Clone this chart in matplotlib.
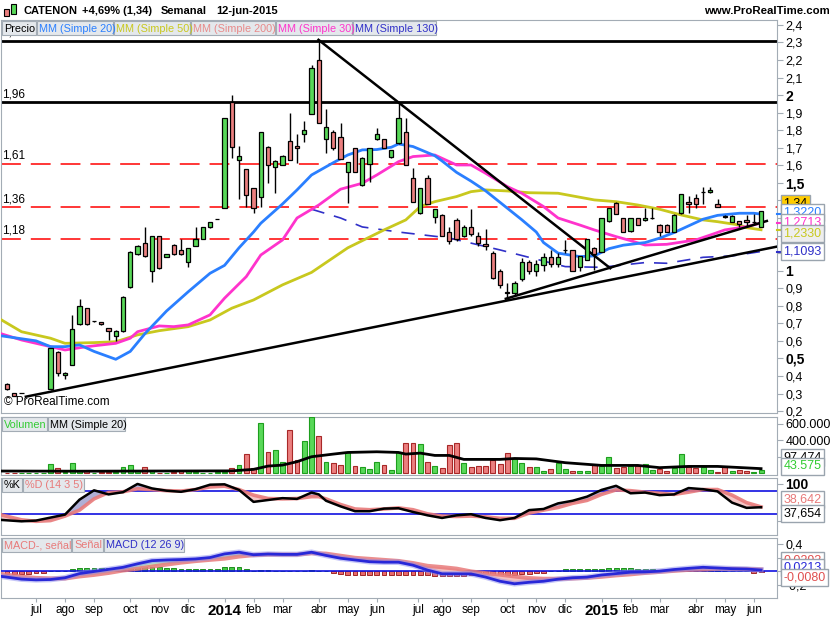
import numpy as np
import matplotlib.pyplot as plt
from matplotlib.transforms import blended_transform_factory
from matplotlib.patches import Rectangle

plt.rcParams['font.family'] = ['Liberation Sans', 'DejaVu Sans']

nan = np.nan

# weekly candles, first shown week (jun 2013) .. 12-jun-2015
opens = [0.353, 0.301, 0.305, nan, nan, nan, 0.324, 0.535, 0.404, 0.463,
         0.696, 0.786, 0.713, 0.706, 0.672, 0.628, 0.656, 0.905, 1.093, 1.16,
         0.998, 1.198, 1.078, 1.145, 1.118, 1.048, 1.142, 1.18, 1.247, 1.295,
         1.356, 1.963, 1.631, 1.578, 1.47, 1.418, 1.707, 1.589, 1.602, 1.739,
         1.71, 1.779, 1.891, 2.2, 1.749, 1.789, 1.76, 1.561, 1.697, 1.487,
         1.606, 1.749, 1.749, 1.646, 1.726, 1.789, 1.527, 1.327, 1.527, 1.304,
         1.317, 1.22, 1.29, 1.20, 1.25, 1.20, 1.15, 1.10, 1.0, 0.88,
         0.87, 0.95, 1.05, 1.0, 1.03, 1.08, 1.04, 1.12, 1.118, 1.023,
         1.061, 1.131, 1.108, 1.285, 1.384, 1.299, 1.226, 1.299, 1.289, 1.30,
         1.26, 1.26, 1.222, 1.327, 1.39, 1.416, 1.45, 1.45, 1.38, 1.313,
         1.279, 1.283, 1.29, 1.275, 1.251]
highs = [0.36, 0.305, 0.305, nan, nan, nan, 0.56, 0.54, 0.42, 0.747,
         0.839, 0.79, 0.715, 0.71, 0.675, 0.66, 0.855, 1.11, 1.145, 1.251,
         1.20, 1.20, 1.095, 1.15, 1.179, 1.13, 1.247, 1.25, 1.28, 1.297,
         1.87, 2.001, 1.71, 1.58, 1.47, 1.79, 1.71, 1.63, 1.66, 1.897,
         1.78, 1.853, 2.172, 2.315, 1.921, 1.80, 1.84, 1.62, 1.70, 1.65,
         1.70, 1.811, 1.75, 1.69, 1.963, 1.868, 1.583, 1.47, 1.545, 1.35,
         1.32, 1.25, 1.30, 1.26, 1.35, 1.22, 1.24, 1.11, 1.01, 0.93,
         0.94, 1.07, 1.06, 1.06, 1.10, 1.12, 1.10, 1.175, 1.12, 1.084,
         1.18, 1.135, 1.30, 1.356, 1.39, 1.30, 1.30, 1.30, 1.356, 1.356,
         1.265, 1.265, 1.32, 1.435, 1.427, 1.437, 1.475, 1.475, 1.41, 1.315,
         1.315, 1.285, 1.317, 1.32, 1.336]
lows = [0.32, 0.285, 0.305, nan, nan, nan, 0.32, 0.40, 0.381, 0.46,
        0.69, 0.69, 0.71, 0.69, 0.605, 0.60, 0.65, 0.90, 1.09, 1.08,
        0.934, 1.01, 1.075, 1.09, 1.09, 1.023, 1.14, 1.178, 1.245, 1.293,
        1.355, 1.64, 1.407, 1.365, 1.327, 1.365, 1.498, 1.444, 1.60, 1.63,
        1.615, 1.735, 1.89, 1.84, 1.669, 1.69, 1.635, 1.387, 1.561, 1.48,
        1.507, 1.745, 1.697, 1.64, 1.72, 1.602, 1.393, 1.32, 1.38, 1.274,
        1.20, 1.15, 1.17, 1.19, 1.20, 1.14, 1.12, 0.95, 0.90, 0.84,
        0.86, 0.94, 0.98, 0.97, 1.0, 1.02, 1.02, 1.10, 1.0, 1.0,
        1.06, 1.004, 1.105, 1.28, 1.32, 1.222, 1.222, 1.26, 1.285, 1.295,
        1.198, 1.22, 1.22, 1.325, 1.327, 1.356, 1.38, 1.44, 1.36, 1.30,
        1.275, 1.247, 1.253, 1.26, 1.251]
closes = [0.324, 0.286, 0.305, nan, nan, nan, 0.558, 0.415, 0.419, 0.666,
          0.799, 0.696, 0.713, 0.695, 0.656, 0.656, 0.852, 1.105, 1.142, 1.085,
          1.198, 1.014, 1.093, 1.093, 1.095, 1.128, 1.179, 1.247, 1.276, 1.295,
          1.868, 1.707, 1.655, 1.431, 1.356, 1.789, 1.602, 1.627, 1.655, 1.631,
          1.697, 1.80, 2.153, 1.84, 1.817, 1.697, 1.635, 1.618, 1.561, 1.644,
          1.697, 1.777, 1.697, 1.688, 1.868, 1.602, 1.393, 1.47, 1.38, 1.35,
          1.20, 1.17, 1.18, 1.25, 1.21, 1.16, 1.14, 0.96, 0.92, 0.87,
          0.93, 1.05, 1.0, 1.04, 1.08, 1.04, 1.08, 1.12, 1.0, 1.084,
          1.179, 1.095, 1.299, 1.356, 1.323, 1.222, 1.299, 1.26, 1.299, 1.30,
          1.222, 1.222, 1.317, 1.435, 1.378, 1.378, 1.45, 1.46, 1.361, 1.304,
          1.313, 1.264, 1.28, 1.28, 1.34]

# weekly volume, thousands
volume = [6, 8, 6, 4, 8, 8, 117, 60, 20, 120,
          32, 32, 5, 20, 20, 20, 72, 100, 28, 72,
          28, 8, 5, 16, 32, 28, 12, 8, 8, 12,
          20, 60, 100, 233, 60, 614, 253, 281, 133, 522,
          161, 390, 683, 450, 141, 120, 100, 253, 88, 72,
          48, 141, 100, 40, 261, 373, 373, 361, 141, 88,
          68, 349, 373, 120, 80, 92, 92, 161, 108, 241,
          169, 120, 80, 80, 28, 48, 120, 48, 28, 28,
          28, 100, 88, 201, 60, 72, 88, 88, 108, 40,
          48, 28, 60, 229, 72, 60, 72, 40, 12, 72,
          28, 40, 28, 12, 44]
# volume MM (Simple 20), thousands
vma_x = [-1, 10, 20, 31, 34, 36, 38, 40, 42, 45, 47, 51, 54, 55, 57, 59, 61, 63, 68, 70,
         73, 77, 82, 87, 90, 94, 98, 104]
vma_y = [28, 26, 28, 30, 48, 88, 100, 141, 201, 233, 253, 261, 253, 233, 245, 217, 217,
         169, 169, 180, 175, 129, 96, 96, 69, 84, 84, 57]

# moving averages (week index, value)
ma20_x = [-1, 4, 6, 8, 10, 12, 15, 17, 19, 22, 25, 28, 30, 32, 34, 35, 38, 40, 42, 45,
          47, 49, 51, 53, 54, 56, 59, 60, 62, 64, 66, 69, 71, 73, 74, 76, 79, 81, 83, 85,
          88, 90, 92, 94, 96, 98, 101, 103, 104]
ma20_y = [0.63, 0.60, 0.567, 0.567, 0.577, 0.54, 0.495, 0.54, 0.64, 0.77, 0.88, 0.985, 1.03,
          1.13, 1.22, 1.27, 1.38, 1.46, 1.545, 1.615, 1.659, 1.688, 1.69, 1.703, 1.722, 1.707,
          1.655, 1.625, 1.56, 1.51, 1.455, 1.356, 1.29, 1.22, 1.16, 1.10, 1.08, 1.084, 1.125,
          1.145, 1.16, 1.185, 1.217, 1.255, 1.293, 1.315, 1.327, 1.327, 1.322]
ma30_x = [-1, 2, 6, 8, 11, 15, 17, 18, 21, 23, 25, 28, 30, 33, 35, 38, 40, 43, 46, 49,
          51, 54, 56, 59, 60, 62, 64, 66, 69, 71, 74, 76, 79, 81, 84, 86, 88, 91, 95, 97,
          99, 102, 104]
ma30_y = [0.643, 0.605, 0.567, 0.548, 0.567, 0.586, 0.615, 0.652, 0.685, 0.681, 0.691,
          0.748, 0.843, 0.966, 1.089, 1.175, 1.30, 1.374, 1.464, 1.498, 1.545, 1.621, 1.65,
          1.659, 1.64, 1.602, 1.602, 1.555, 1.479, 1.441, 1.365, 1.30, 1.26, 1.232, 1.194,
          1.171, 1.146, 1.15, 1.175, 1.203, 1.232, 1.251, 1.271]
ma50_x = [-1, 2, 6, 8, 12, 15, 18, 21, 25, 28, 31, 34, 38, 42, 47, 52, 55, 57, 59, 62,
          64, 66, 69, 72, 76, 81, 84, 87, 90, 93, 96, 98, 101, 102, 104]
ma50_y = [0.725, 0.652, 0.615, 0.586, 0.59, 0.595, 0.634, 0.658, 0.681, 0.719, 0.786,
          0.833, 0.919, 0.99, 1.13, 1.232, 1.289, 1.365, 1.393, 1.422, 1.45, 1.46, 1.454,
          1.444, 1.441, 1.403, 1.393, 1.374, 1.35, 1.317, 1.289, 1.279, 1.26, 1.245, 1.233]
ma130_x = [42, 46, 49, 54, 61, 68, 77, 82, 88, 91, 96, 100, 104]
ma130_y = [1.35, 1.30, 1.249, 1.22, 1.186, 1.118, 1.023, 1.019, 1.046, 1.042, 1.076,
           1.084, 1.109]

# drawn trend lines (week index, price)
trend_lines = [((2.6, 0.282), (106.2, 1.137)),
               ((42.96, 2.315), (83.2, 1.014)),
               ((68.8, 0.84), (104.8, 1.283))]
black_levels = [2.31, 1.96]
red_levels = [1.61, 1.36, 1.18]

# stochastic
stoch_x = [-1, 2, 4, 6, 8, 10, 12, 14, 16, 18, 20, 22, 24, 26, 28, 30, 32, 34, 36, 38,
           40, 42, 43, 44, 46, 48, 50, 52, 54, 56, 58, 60, 62, 64, 66, 68, 70, 72, 74, 76,
           78, 80, 82, 84, 86, 88, 90, 92, 94, 96, 98, 100, 102, 104]
stoch_k = [4, 0, 2, 10, 18, 58, 83, 72, 78, 100, 88, 82, 79, 86, 98, 99, 84, 52, 57, 62,
           60, 77, 72, 55, 40, 27, 27, 34, 35, 25, 16, 9, 16, 19, 9, 3, 9, 30, 33, 48,
           55, 66, 84, 95, 75, 77, 70, 72, 89, 86, 80, 50, 36, 37.654]
stoch_d = [18, 4, 0, 2, 14, 30, 60, 77, 79, 87, 85, 82, 81, 85, 92, 94, 85, 70, 61, 60,
           61, 66, 66, 60, 45, 33, 31, 33, 36, 31, 20, 14, 13, 14, 12, 8, 8, 22, 30, 37,
           48, 56, 72, 84, 82, 78, 75, 72, 78, 85, 85, 70, 50, 38.642]

# MACD
macd_x = [-1, 2, 4, 6, 8, 10, 12, 14, 16, 18, 20, 22, 24, 26, 28, 30, 32, 34, 36, 38,
          40, 42, 44, 46, 48, 50, 52, 54, 56, 58, 60, 62, 64, 66, 68, 70, 72, 74, 76, 78,
          80, 82, 84, 86, 88, 90, 92, 94, 96, 98, 100, 102, 104]
macd_line = [-0.067, -0.11, -0.12, -0.115, -0.09, -0.03, 0.0, 0.03, 0.06, 0.11, 0.155, 0.165,
             0.171, 0.18, 0.20, 0.252, 0.276, 0.24, 0.25, 0.245, 0.245, 0.276, 0.23, 0.19,
             0.165, 0.14, 0.133, 0.133, 0.09, 0.02, -0.033, -0.033, -0.035, -0.08, -0.14,
             -0.176, -0.155, -0.14, -0.11, -0.09, -0.081, -0.05, -0.03, -0.01, -0.006, 0.005,
             0.028, 0.045, 0.06, 0.05, 0.04, 0.035, 0.0213]
macd_signal = [-0.033, -0.075, -0.093, -0.10, -0.10, -0.07, -0.048, -0.02, 0.015, 0.04, 0.07,
               0.10, 0.128, 0.15, 0.168, 0.185, 0.215, 0.235, 0.243, 0.243, 0.243, 0.262,
               0.255, 0.225, 0.195, 0.18, 0.165, 0.15, 0.12, 0.08, 0.062, 0.04, 0.0, -0.025,
               -0.045, -0.07, -0.095, -0.105, -0.105, -0.10, -0.09, -0.075, -0.055, -0.04,
               -0.02, -0.005, 0.01, 0.024, 0.03, 0.038, 0.038, 0.036, 0.0293]
macd_hist = [-0.03, -0.033, -0.033, -0.033, -0.025, -0.02, 0.0, 0.0, 0.014, 0.029,
             0.052, 0.052, 0.052, 0.052, 0.052, 0.038, 0.052, 0.071, 0.076, 0.086,
             0.071, 0.062, 0.052, 0.052, 0.038, 0.038, 0.029, 0.029, 0.029, 0.029,
             0.071, 0.071, 0.071, 0.038, 0.014, 0.024, 0.024, 0.014, 0.014, 0.005,
             0.005, 0.005, 0.024, 0.014, 0.014, -0.019, -0.033, -0.048, -0.057, -0.057,
             -0.057, -0.057, -0.057, -0.057, -0.057, -0.057, -0.057, -0.057, -0.057, -0.062,
             -0.067, -0.071, -0.071, -0.067, -0.057, -0.057, -0.057, -0.057, -0.057, -0.057,
             -0.057, -0.033, -0.033, -0.024, -0.019, 0.005, 0.014, 0.029, 0.029, 0.029,
             0.029, 0.029, 0.038, 0.052, 0.052, 0.052, 0.052, 0.038, 0.038, 0.038,
             0.024, 0.024, 0.014, 0.014, 0.01, 0.01, 0.01, 0.024, 0.024, 0.014,
             0.004, 0.004, 0.004, -0.019, -0.008]

tick_pos = [4, 8, 12, 17, 21, 25, 30, 34, 38, 43, 47, 51, 56.7, 60, 64, 69, 73, 77, 82, 86,
            90, 95, 99, 103]
tick_lbl = ['jul', 'ago', 'sep', 'oct', 'nov', 'dic', '2014', 'feb', 'mar', 'abr', 'may',
            'jun', 'jul', 'ago', 'sep', 'oct', 'nov', 'dic', '2015', 'feb', 'mar', 'abr',
            'may', 'jun']

GREEN = '#58D858'
RED = '#EB7F7F'
FRAME = '#A3ACB5'
BOXBG = '#E4E8EC'
C20, C50, C200, C30, C130 = '#2A7FFF', '#C8C81E', '#E88A8A', '#FF33CC', '#3030C8'

W, H = 835, 620
fig = plt.figure(figsize=(W / 100, H / 100), dpi=100)


def pane(y0, y1):
    ax = fig.add_axes([1 / W, 1 - y1 / H, 776 / W, (y1 - y0) / H])
    for s in ax.spines.values():
        s.set_color(FRAME)
    ax.yaxis.tick_right()
    ax.tick_params(axis='y', colors='black', labelsize=9, length=4, color=FRAME, pad=2)
    ax.tick_params(axis='x', bottom=False, labelbottom=False)
    ax.set_xlim(-0.83, 106.2)
    return ax


def legend(x, y, items):
    for text, color, w in items:
        fig.patches.append(Rectangle((x / W, 1 - (y + 14) / H), w / W, 14 / H,
                                     transform=fig.transFigure, fc=BOXBG, ec=FRAME, lw=0.8,
                                     zorder=10))
        fig.text((x + 2) / W, 1 - (y + 7.5) / H, text, color=color, fontsize=7.8,
                 va='center', ha='left', zorder=11)
        x += w + 1


def value_box(ax, y, text, color, fc='white', weight='normal'):
    tr = blended_transform_factory(ax.transAxes, ax.transData)
    ax.text(1.008, y, text, transform=tr, color=color, fontsize=9, va='center', ha='left',
            weight=weight, clip_on=False, zorder=20,
            bbox=dict(boxstyle='square,pad=0.2', fc=fc, ec='#9AA4AE', lw=1))


def side_tick(ax, y, color):
    tr = blended_transform_factory(ax.transAxes, ax.transData)
    ax.plot([1.0, 1.008], [y, y], transform=tr, color=color, lw=1.5, clip_on=False, zorder=19)


idx = np.arange(len(closes))
o = np.array(opens)
h = np.array(highs)
l = np.array(lows)
c = np.array(closes)
up = c >= o
down = c < o

# ---------------- price pane ----------------
ax = pane(20, 413)
ax.set_ylim(0.189, 2.428)
for lv in black_levels:
    ax.axhline(lv, color='black', lw=2, zorder=2)
    ax.text(-0.63, lv + 0.012, f'{lv:.2f}'.replace('.', ','), fontsize=8.5,
            va='bottom', ha='left', zorder=2)
for lv in red_levels:
    ax.axhline(lv, color='#FF0000', lw=1.1, dashes=(13, 6.5), zorder=2)
    ax.text(-0.63, lv + 0.012, f'{lv:.2f}'.replace('.', ','), fontsize=8.5,
            va='bottom', ha='left', zorder=2)

ax.plot(ma130_x, ma130_y, color=C130, lw=1.2, dashes=(8, 6), zorder=3)
ax.plot(ma50_x, ma50_y, color=C50, lw=2, zorder=3)
ax.plot(ma30_x, ma30_y, color=C30, lw=2, zorder=3)
ax.plot(ma20_x, ma20_y, color=C20, lw=2, zorder=3)
for (x0, y0), (x1, y1) in trend_lines:
    ax.plot([x0, x1], [y0, y1], color='black', lw=1.8, zorder=4)

ax.vlines(idx, l, h, color='black', lw=1, zorder=5)
ax.bar(idx[up], (c - o)[up], bottom=o[up], width=0.6, color=GREEN, edgecolor='black',
       lw=0.9, zorder=6)
ax.bar(idx[down], (o - c)[down], bottom=c[down], width=0.6, color=RED, edgecolor='black',
       lw=0.9, zorder=6)

yt = np.round(np.arange(0.2, 2.41, 0.1), 1)
ax.set_yticks(yt)
# 1,1 .. 1,4 sit under the value boxes in the original
ax.set_yticklabels(['' if 1.05 < v < 1.45 else f'{v:g}'.replace('.', ',') for v in yt])
for t, v in zip(ax.get_yticklabels(), yt):
    if abs(v * 2 - round(v * 2)) < 1e-6:
        t.set_fontweight('bold')
        t.set_fontsize(10)

value_box(ax, 1.383, '1,34', 'black', fc='#FFCC00')
value_box(ax, 1.334, '1,3220', C20)
value_box(ax, 1.272, '1,2713', C30)
value_box(ax, 1.210, '1,2330', C50, fc='#EEEEEE')
value_box(ax, 1.107, '1,1093', C130)
side_tick(ax, 1.322, C20)
side_tick(ax, 1.271, C30)
side_tick(ax, 1.233, C50)
side_tick(ax, 1.109, C130)
ax.text(0.004, 0.012, '\u00a9 ProRealTime.com', transform=ax.transAxes, fontsize=8.5,
        va='bottom', ha='left')

# ---------------- volume pane ----------------
av = pane(417, 475)
av.set_ylim(-20, 682)
v = np.array(volume, dtype=float)
vup = ~down
av.bar(idx[vup], v[vup], width=0.68, color=GREEN, edgecolor='#1E9E1E', lw=0.8, zorder=3)
av.bar(idx[~vup], v[~vup], width=0.68, color=RED, edgecolor='#A82828', lw=0.8, zorder=3)
av.plot(vma_x, vma_y, color='black', lw=2, zorder=4)
av.set_yticks([200, 400, 600])
av.set_yticklabels(['', '400.000', '600.000'])
value_box(av, 190, '97.474', 'black')
value_box(av, 85, '43.575', '#33CC33')

# ---------------- stochastic pane ----------------
ak = pane(478, 535)
ak.set_ylim(-36.6, 115.9)
ak.axhline(80, color='#1010E0', lw=1.2, zorder=2)
ak.axhline(20, color='#1010E0', lw=1.2, zorder=2)
sk = np.array(stoch_k, dtype=float)
sd = np.array(stoch_d, dtype=float)
ak.fill_between(stoch_x, sk, sd, where=sk >= sd, interpolate=True, color='#AFAFD6',
                lw=0, zorder=1)
ak.fill_between(stoch_x, sk, sd, where=sk < sd, interpolate=True, color='#F4C6C6',
                lw=0, zorder=1)
ak.plot(stoch_x, stoch_d, color='#E87A7A', lw=2.6, alpha=0.9, zorder=3)
ak.plot(stoch_x, stoch_k, color='black', lw=1.8, zorder=4)
ak.set_yticks([0, 100])
ak.set_yticklabels(['', '100'], fontweight='bold', fontsize=10)
value_box(ak, 58, '38,642', '#E87A7A')
value_box(ak, 20, '37,654', 'black')

# ---------------- MACD pane ----------------
am = pane(538, 598)
am.set_ylim(-0.38, 0.48)
mh = np.array(macd_hist)
am.bar(idx[mh >= 0], mh[mh >= 0], width=0.68, color='#44C844', edgecolor='#1E8E1E',
       lw=0.7, zorder=2)
am.bar(idx[mh < 0], mh[mh < 0], width=0.68, color='#E86A6A', edgecolor='#A02828',
       lw=0.7, zorder=2)
am.axhline(0, color='#1010E0', lw=1.2, zorder=3)
ml = np.array(macd_line)
ms = np.array(macd_signal)
am.fill_between(macd_x, ml, ms, where=ml >= ms, interpolate=True, color='#BDEBBD', lw=0,
                zorder=3)
am.fill_between(macd_x, ml, ms, where=ml < ms, interpolate=True, color='#F4C0C0', lw=0,
                zorder=3)
am.plot(macd_x, macd_signal, color='#E87A7A', lw=3, alpha=0.85, zorder=4)
am.plot(macd_x, macd_line, color='#8C8CF0', lw=4, alpha=0.5, zorder=5)
am.plot(macd_x, macd_line, color='#2828D8', lw=2, zorder=6)
am.set_yticks([-0.2, 0, 0.2, 0.4])
am.set_yticklabels(['-0,2', '', '', '0,4'])
value_box(am, 0.16, '0,0293', '#E05050')
value_box(am, 0.06, '0,0213', '#2828D8')
value_box(am, -0.08, '-0,0080', '#E05050')

am.tick_params(axis='x', bottom=True, labelbottom=True, length=3, color=FRAME, pad=1.5,
               labelsize=8.5)
am.set_xticks(tick_pos)
am.set_xticklabels(tick_lbl)
for t in am.get_xticklabels():
    if t.get_text() in ('2014', '2015'):
        t.set_fontweight('bold')
        t.set_fontsize(11)

# ---------------- legends & header ----------------
legend(2, 21, [('Precio', 'black', 34), ('MM (Simple 20)', C20, 76),
               ('MM (Simple 50)', C50, 76), ('MM (Simple 200)', C200, 84),
               ('MM (Simple 30)', C30, 76), ('MM (Simple 130)', C130, 83)])
legend(2, 417, [('Volumen', '#33CC33', 45), ('MM (Simple 20)', 'black', 77)])
legend(2, 478, [('%K', 'black', 20), ('%D (14 3 5)', '#E87A7A', 61)])
legend(2, 538, [('MACD-, se\u00f1al', '#E87A7A', 69), ('Se\u00f1al', '#E87A7A', 31),
                ('MACD (12 26 9)', '#3030C8', 80)])

# small candle icon
fig.patches.append(Rectangle((4 / W, 1 - 16 / H), 5 / W, 7 / H, transform=fig.transFigure,
                             fc=RED, ec='black', lw=0.8))
fig.patches.append(Rectangle((11 / W, 1 - 14 / H), 5 / W, 10 / H, transform=fig.transFigure,
                             fc=GREEN, ec='black', lw=0.8))
for txt, x in [('CATENON', 23), ('+4,69% (1,34)', 82), ('Semanal', 161),
               ('12-jun-2015', 216)]:
    fig.text(x / W, 1 - 10.5 / H, txt, fontsize=8.0, weight='bold', va='center', ha='left')
fig.text(830 / W, 1 - 11 / H, 'www.ProRealTime.com', fontsize=8.2, weight='bold',
         va='center', ha='right')

fig.savefig('out.png', dpi=100)
